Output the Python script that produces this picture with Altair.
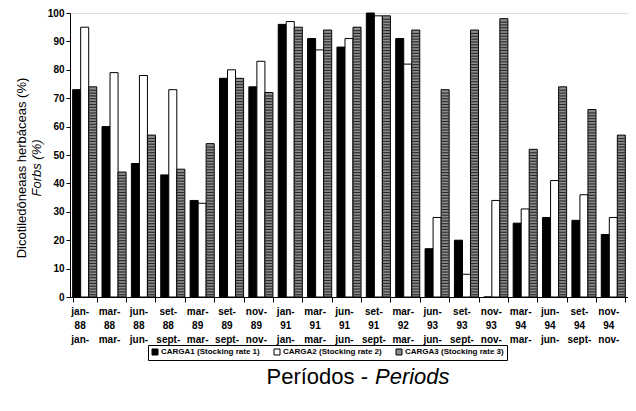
import altair as alt
import pandas as pd

line1 = ["jan-", "mar-", "jun-", "set-", "mar-", "set-", "nov-", "jan-", "mar-", "jun-",
         "set-", "mar-", "jun-", "set-", "nov-", "mar-", "jun-", "set-", "nov-"]
line2 = ["88", "88", "88", "88", "89", "89", "89", "91", "91", "91",
         "91", "92", "93", "93", "93", "94", "94", "94", "94"]
line3 = ["jan-", "mar-", "jun-", "sept-", "mar-", "sept-", "nov-", "jan-", "mar-", "jun-",
         "sept-", "mar-", "jun-", "sept-", "nov-", "mar-", "jun-", "sept-", "nov-"]

series = ["CARGA1 (Stocking rate 1)", "CARGA2 (Stocking rate 2)", "CARGA3 (Stocking rate 3)"]
carga1 = [73, 60, 47, 43, 34, 77, 74, 96, 91, 88, 100, 91, 17, 20, 0, 26, 28, 27, 22]
carga2 = [95, 79, 78, 73, 33, 80, 83, 97, 87, 91, 99, 82, 28, 8, 34, 31, 41, 36, 28]
carga3 = [74, 44, 57, 45, 54, 77, 72, 95, 94, 95, 99, 94, 73, 94, 98, 52, 74, 66, 57]

periods = [f"{a}|{b}|{c}" for a, b, c in zip(line1, line2, line3)]
rows = []
for s, vals in zip(series, [carga1, carga2, carga3]):
    for p, v in zip(periods, vals):
        rows.append({"period": p, "series": s, "value": v})
df = pd.DataFrame(rows)

# horizontal hatch lines inside the CARGA3 bars
stripe_rows = []
for p, v in zip(periods, carga3):
    k = 1
    while k < v - 0.3:
        stripe_rows.append({"period": p, "series": series[2], "y0": k - 0.4, "y1": k})
        k += 1
stripes = pd.DataFrame(stripe_rows)

FONT = "Liberation Sans"

xaxis = alt.Axis(labelExpr="datum.value ? split(datum.value, '|') : ''", labelAngle=0,
                 labelFont=FONT, labelFontSize=10, labelFontWeight="bold",
                 labelColor="black", labelLineHeight=14, labelPadding=4,
                 labelOffset=-5, tickBand="extent", tickSize=5,
                 tickColor="black", domainColor="black", grid=False)
xscale = alt.Scale(paddingInner=0.18, paddingOuter=0.09)
yaxis = alt.Axis(values=list(range(0, 101, 10)), labelFont=FONT, labelFontSize=10,
                 labelFontWeight="bold", labelColor="black", tickSize=4,
                 labelOverlap=False, tickColor="black", domainColor="black",
                 grid=False)
yscale = alt.Scale(domain=[0, 100], nice=False)

bars = alt.Chart(df).mark_bar(stroke="black", strokeWidth=1).encode(
    x=alt.X("period:N", sort=periods, title=None, scale=xscale, axis=xaxis),
    xOffset=alt.XOffset("series:N", sort=series, scale=alt.Scale(paddingInner=0, paddingOuter=0)),
    y=alt.Y("value:Q", title=None, scale=yscale, axis=yaxis),
    color=alt.Color("series:N", sort=series,
                    scale=alt.Scale(domain=series, range=["#000000", "#ffffff", "#8c8c8c"]),
                    legend=alt.Legend(title=None, orient="none", legendX=78, legendY=332,
                                      direction="horizontal", strokeColor="black",
                                      padding=3, labelFont=FONT, labelFontSize=8,
                                      labelFontWeight="bold", labelColor="black",
                                      symbolType="square", symbolSize=36,
                                      symbolStrokeColor="black", symbolStrokeWidth=1,
                                      columnPadding=12, labelOffset=2)),
)

stripe_layer = alt.Chart(stripes).mark_bar(color="#2a2a2a", stroke=None).encode(
    x=alt.X("period:N", sort=periods, title=None, scale=xscale, axis=xaxis),
    xOffset=alt.XOffset("series:N", sort=series, scale=alt.Scale(paddingInner=0, paddingOuter=0)),
    y=alt.Y("y0:Q", title=None, scale=yscale, axis=yaxis),
    y2="y1:Q",
)

ytitle1 = alt.Chart(pd.DataFrame({"t": ["Dicotiledôneaas herbáceas (%)"]})).mark_text(
    angle=270, font=FONT, fontSize=13, color="black", align="center", baseline="middle"
).encode(x=alt.value(-48), y=alt.value(155), text="t:N")
ytitle2 = alt.Chart(pd.DataFrame({"t": ["Forbs (%)"]})).mark_text(
    angle=270, font=FONT, fontSize=13, fontStyle="italic", color="black",
    align="center", baseline="middle"
).encode(x=alt.value(-33), y=alt.value(155), text="t:N")

xtitle1 = alt.Chart(pd.DataFrame({"t": ["Períodos -"]})).mark_text(
    font=FONT, fontSize=22, color="black", align="right", baseline="alphabetic"
).encode(x=alt.value(298), y=alt.value(371), text="t:N")
xtitle2 = alt.Chart(pd.DataFrame({"t": ["Periods"]})).mark_text(
    font=FONT, fontSize=22, fontStyle="italic", color="black", align="left",
    baseline="alphabetic"
).encode(x=alt.value(305), y=alt.value(371), text="t:N")

chart = alt.layer(bars, stripe_layer, ytitle1, ytitle2, xtitle1, xtitle2).properties(
    width=558, height=284,
    padding={"left": 62, "top": 5, "right": 0, "bottom": 98},
    autosize="none",
).configure_view(stroke="black", strokeWidth=1).configure(background="white")

chart.save("out.html", embed_options={"renderer": "svg", "actions": False})
